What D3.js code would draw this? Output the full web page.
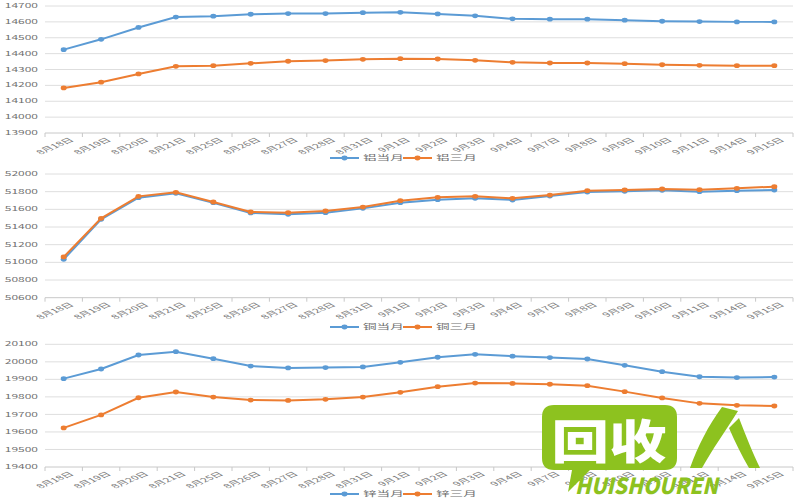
<!DOCTYPE html>
<html><head><meta charset="utf-8">
<script src="https://cdn.jsdelivr.net/npm/d3@7"></script>
<style>
html,body{margin:0;padding:0;background:#fff;}
svg{display:block;}
text{font-family:"Noto Sans CJK SC","Noto Sans",sans-serif;}
</style></head>
<body>
<svg id="c" width="800" height="500"></svg>
<script>
const categories = ["8月18日","8月19日","8月20日","8月21日","8月25日","8月26日","8月27日","8月28日","8月31日","9月1日","9月2日","9月3日","9月4日","9月7日","9月8日","9月9日","9月10日","9月11日","9月14日","9月15日"];
const alCurrent = [14425,14490,14565,14630,14636,14648,14652,14652,14658,14660,14650,14638,14619,14617,14617,14611,14604,14602,14600,14600];
const alThree   = [14184,14220,14272,14320,14324,14339,14352,14356,14364,14368,14366,14358,14345,14341,14341,14337,14330,14326,14324,14324];
const cuCurrent = [51034,51487,51732,51781,51675,51559,51544,51562,51611,51675,51709,51725,51706,51751,51796,51804,51815,51800,51811,51819];
const cuThree   = [51061,51498,51747,51793,51683,51570,51562,51581,51626,51698,51736,51747,51725,51762,51811,51819,51830,51823,51838,51857];
const znCurrent = [19904,19959,20039,20058,20018,19976,19965,19967,19971,19997,20026,20043,20032,20024,20016,19980,19944,19915,19910,19913];
const znThree   = [19623,19697,19795,19828,19799,19782,19780,19786,19799,19826,19858,19879,19877,19872,19864,19830,19794,19763,19752,19748];
const alTicks = [13900,14000,14100,14200,14300,14400,14500,14600,14700];
const cuTicks = [50600,50800,51000,51200,51400,51600,51800,52000];
const znTicks = [19400,19500,19600,19700,19800,19900,20000,20100];
const alNames = ["铝当月","铝三月"];
const cuNames = ["铜当月","铜三月"];
const znNames = ["锌当月","锌三月"];
const colors = ["#5B9BD5","#ED7D31"];

const svg = d3.select("#c");
const X0 = 45, X1 = 793;
const SX = 1.6, SY = 0.8;
const textColor = "#6f6f6f";

const x = d3.scaleBand().domain(categories).range([X0, X1]);

const panels = [
  {names: alNames, series: [alCurrent, alThree], ticks: alTicks, top: 6, bottom: 133, legendY: 158},
  {names: cuNames, series: [cuCurrent, cuThree], ticks: cuTicks, top: 174, bottom: 297.7, legendY: 327},
  {names: znNames, series: [znCurrent, znThree], ticks: znTicks, top: 344.3, bottom: 467, legendY: 494}
];

panels.forEach(p => {
  const y = d3.scaleLinear().domain([p.ticks[0], p.ticks[p.ticks.length-1]]).range([p.bottom, p.top]);
  const g = svg.append("g");
  g.selectAll("line.grid").data(p.ticks).join("line")
    .attr("x1", X0).attr("x2", X1)
    .attr("y1", d => y(d)).attr("y2", d => y(d))
    .attr("stroke", (d,i) => i === 0 ? "#C8C8C8" : "#DEDEDE").attr("stroke-width", 1);
  g.selectAll("text.yl").data(p.ticks).join("text")
    .attr("transform", d => `translate(38,${y(d)}) scale(${SX},${SY})`)
    .attr("text-anchor", "end").attr("dy", "0.35em")
    .attr("font-size", 7.5).attr("fill", textColor)
    .text(d => d);
  const edges = categories.map(c => x(c)).concat([X1]);
  g.selectAll("line.xt").data(edges).join("line")
    .attr("x1", d => d).attr("x2", d => d)
    .attr("y1", p.bottom).attr("y2", p.bottom + 4)
    .attr("stroke", "#C8C8C8");
  g.selectAll("text.xl").data(categories).join("text")
    .attr("transform", d => `translate(${x(d) + x.bandwidth()/2 + 8},${p.bottom + 6}) scale(${SX},${SY}) rotate(-40)`)
    .attr("text-anchor", "end").attr("dy", "0.35em")
    .attr("font-size", 7.5).attr("fill", "#7a7a7a")
    .text(d => d);
  p.series.forEach((s, si) => {
    const line = d3.line().x((d,i) => x(categories[i]) + x.bandwidth()/2).y(d => y(d));
    g.append("path").datum(s).attr("d", line)
      .attr("fill", "none").attr("stroke", colors[si]).attr("stroke-width", 2);
    g.selectAll(null).data(s).join("ellipse")
      .attr("cx", (d,i) => x(categories[i]) + x.bandwidth()/2)
      .attr("cy", d => y(d)).attr("rx", 3).attr("ry", 2.4)
      .attr("fill", colors[si]);
  });
  const lx = [330, 403];
  p.names.forEach((n, i) => {
    g.append("line").attr("x1", lx[i]).attr("x2", lx[i] + 29)
      .attr("y1", p.legendY).attr("y2", p.legendY)
      .attr("stroke", colors[i]).attr("stroke-width", 2);
    g.append("ellipse").attr("cx", lx[i] + 14.5).attr("cy", p.legendY).attr("rx", 3).attr("ry", 2.4).attr("fill", colors[i]);
    g.append("text")
      .attr("transform", `translate(${lx[i] + 33},${p.legendY}) scale(${SX},${SY})`)
      .attr("dy", "0.35em").attr("font-size", 8.5).attr("fill", textColor)
      .text(n);
  });
});

// watermark
const wm = svg.append("g");
const green = "#8DC21F";
wm.append("path").attr("d", "M555,405 H665 Q677,405 677,417 V458 Q677,470 665,470 H590 L568,492 L572,470 H554 Q542,470 542,458 V417 Q542,405 554,405 Z")
  .attr("fill", green);
wm.append("text").attr("transform", "translate(609,458) scale(1.25,1)")
  .attr("text-anchor", "middle").attr("font-size", 46).attr("font-weight", 900)
  .attr("fill", "#fff").text("回收");
// stylised 人 glyph
wm.append("path").attr("d", "M722,407 L738,411 C726,430 712,450 702,468 L690,468 C698,446 708,426 722,407 Z")
  .attr("fill", green);
wm.append("path").attr("d", "M729,428 L739,418 C746,436 753,454 760,468 L749,468 C742,456 735,442 729,428 Z")
  .attr("fill", green);
wm.append("text").attr("x", 575).attr("y", 494)
  .attr("textLength", 143).attr("lengthAdjust", "spacingAndGlyphs")
  .attr("font-size", 22).attr("font-weight", 900).attr("font-style", "italic")
  .attr("font-family", "DejaVu Sans").attr("fill", green).text("HUISHOUREN");
</script>
</body></html>
